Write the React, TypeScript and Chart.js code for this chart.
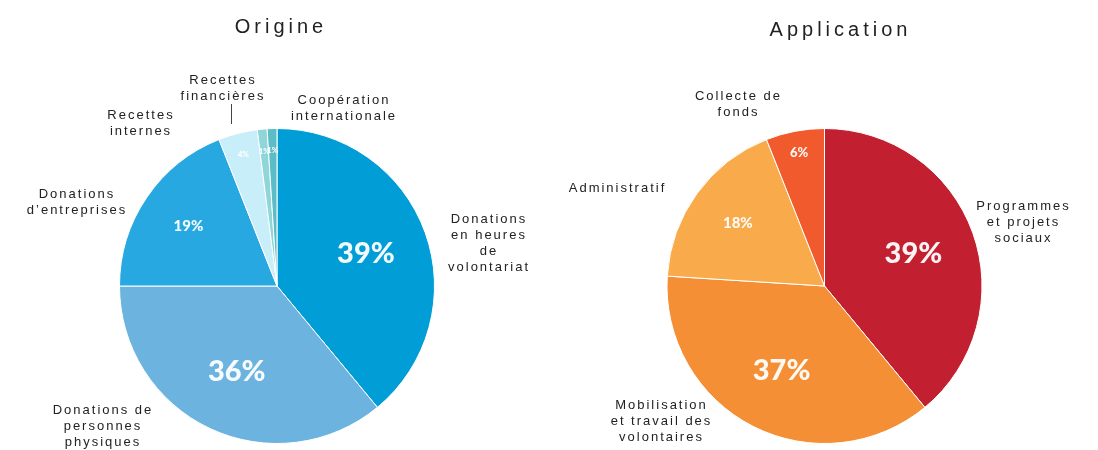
import React, { useEffect, useRef } from "react";
import { Chart, registerables } from "chart.js";

Chart.register(...registerables);

// ---------- data ----------
const origineLabels = [
  "Donations\nen heures\nde\nvolontariat",
  "Donations de\npersonnes\nphysiques",
  "Donations\nd\u2019entreprises",
  "Recettes\ninternes",
  "Recettes\nfinanci\u00e8res",
  "Coop\u00e9ration\ninternationale",
];
const origineValues = [39, 36, 19, 4, 1, 1];
const origineColors = ["#009dd6", "#6cb3e0", "#27a8e0", "#c8eef9", "#8ed6da", "#5cbdc7"];

const applicationLabels = [
  "Programmes\net projets\nsociaux",
  "Mobilisation\net travail des\nvolontaires",
  "Administratif",
  "Collecte de\nfonds",
];
const applicationValues = [39, 37, 18, 6];
const applicationColors = ["#c21f30", "#f58f36", "#f9ab4b", "#f15a2c"];

const titles = ["Origine", "Application"];

// ---------- layout (label anchors relative to pie centre, in px) ----------
const origineLabelPos = [
  { dx: 211, dy: -67 },
  { dx: -175, dy: 124 },
  { dx: -201, dy: -92 },
  { dx: -137, dy: -171 },
  { dx: -55, dy: -206 },
  { dx: 66, dy: -186 },
];
const applicationLabelPos = [
  { dx: 198, dy: -80 },
  { dx: -164, dy: 119 },
  { dx: -208, dy: -98 },
  { dx: -87, dy: -190 },
];

type Cfg = {
  labels: string[];
  values: number[];
  colors: string[];
  pos: { dx: number; dy: number }[];
  title: string;
  titleDx: number;
  titleY: number;
  padding: { top: number; bottom: number; left: number; right: number };
  leader?: { label: number };
};

const labelPlugin = {
  id: "customLabels",
  afterDatasetsDraw(chart: any, _args: any, opts: any) {
    const cfg: Cfg = opts.cfg;
    const ctx = chart.ctx as CanvasRenderingContext2D;
    const meta = chart.getDatasetMeta(0);
    const arcs = meta.data;
    if (!arcs.length) return;
    const cx = arcs[0].x;
    const cy = arcs[0].y;
    const total = cfg.values.reduce((a, b) => a + b, 0);
    ctx.save();
    // percentages inside slices
    arcs.forEach((arc: any, i: number) => {
      const v = cfg.values[i];
      const pct = Math.round((v / total) * 100);
      const mid = (arc.startAngle + arc.endAngle) / 2;
      const rf = v >= 30 ? 0.6 : v >= 10 ? 0.68 : 0.86;
      const r = arc.outerRadius * rf;
      const x = cx + Math.cos(mid) * r;
      const y = cy + Math.sin(mid) * r;
      const size = v >= 30 ? 29 : v >= 15 ? 15 : v >= 5 ? 13 : 8;
      ctx.font = `900 ${size}px Lato, "Open Sans", sans-serif`;
      (ctx as any).letterSpacing = "0px";
      ctx.fillStyle = "rgba(255,255,255,0.95)";
      ctx.textAlign = "center";
      ctx.textBaseline = "middle";
      ctx.fillText(pct + "%", x, y);
    });
    // outer labels
    ctx.fillStyle = "#222";
    ctx.font = `13px "Liberation Sans", Arial, sans-serif`;
    (ctx as any).letterSpacing = "2px";
    ctx.textAlign = "center";
    ctx.textBaseline = "middle";
    cfg.labels.forEach((lab, i) => {
      const p = cfg.pos[i];
      lab.split("\n").forEach((line, j) => {
        ctx.fillText(line, cx + p.dx + 1, cy + p.dy + j * 16);
      });
    });
    // leader line
    if (cfg.leader) {
      const p = cfg.pos[cfg.leader.label];
      ctx.strokeStyle = "#444";
      ctx.lineWidth = 1;
      ctx.beginPath();
      ctx.moveTo(cx + p.dx + 9.5, cy + p.dy + 24);
      ctx.lineTo(cx + p.dx + 9.5, cy + p.dy + 44);
      ctx.stroke();
    }
    // title
    ctx.fillStyle = "#222";
    ctx.font = `20px "Liberation Sans", Arial, sans-serif`;
    (ctx as any).letterSpacing = "4px";
    ctx.fillText(cfg.title, cx + cfg.titleDx + 2, cfg.titleY);
    ctx.restore();
  },
};

function PieChart({ cfg }: { cfg: Cfg }) {
  const ref = useRef<HTMLCanvasElement | null>(null);
  useEffect(() => {
    if (!ref.current) return;
    const chart = new Chart(ref.current, {
      type: "pie",
      data: {
        labels: cfg.labels,
        datasets: [
          {
            data: cfg.values,
            backgroundColor: cfg.colors,
            borderColor: "#ffffff",
            borderWidth: 1,
          },
        ],
      },
      options: {
        responsive: false,
        animation: false,
        layout: { padding: cfg.padding },
        plugins: {
          legend: { display: false },
          tooltip: { enabled: false },
          customLabels: { cfg },
        } as any,
      },
      plugins: [labelPlugin],
    });
    return () => chart.destroy();
  }, [cfg]);
  return <canvas ref={ref} width={549} height={450} style={{ display: "block" }} />;
}

const origineCfg: Cfg = {
  labels: origineLabels,
  values: origineValues,
  colors: origineColors,
  pos: origineLabelPos,
  title: titles[0],
  titleDx: 2,
  titleY: 27,
  padding: { top: 128, bottom: 6, left: 100, right: 95 },
  leader: { label: 4 },
};

const applicationCfg: Cfg = {
  labels: applicationLabels,
  values: applicationValues,
  colors: applicationColors,
  pos: applicationLabelPos,
  title: titles[1],
  titleDx: 14,
  titleY: 30,
  padding: { top: 128, bottom: 6, left: 100, right: 98 },
};

export default function App() {
  return (
    <div
      style={{
        position: "fixed",
        left: 0,
        top: 0,
        width: 1098,
        height: 450,
        background: "#ffffff",
        display: "flex",
      }}
    >
      <PieChart cfg={origineCfg} />
      <PieChart cfg={applicationCfg} />
    </div>
  );
}
